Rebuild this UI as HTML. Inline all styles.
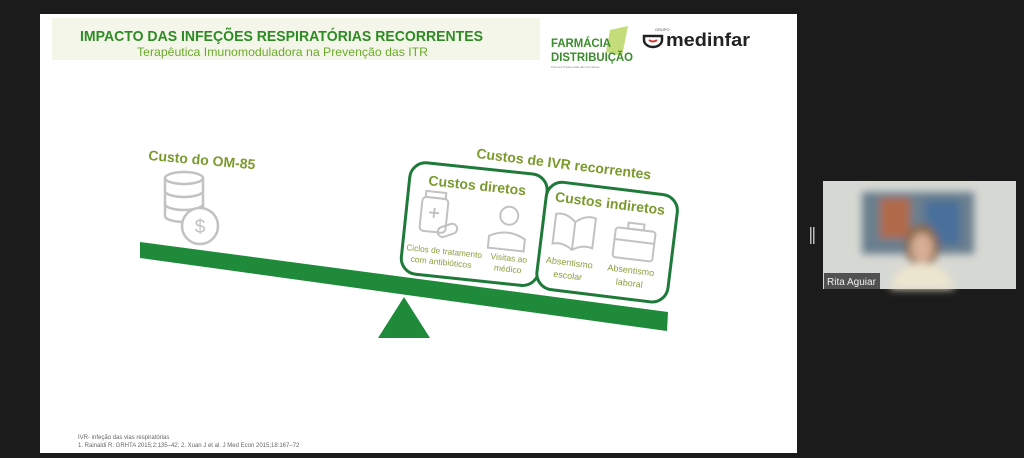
<!DOCTYPE html>
<html><head><meta charset="utf-8"><style>
html,body{margin:0;padding:0;background:#1b1b1b;width:1024px;height:458px;overflow:hidden;font-family:"Liberation Sans",sans-serif}
</style></head><body>
<svg width="1024" height="458" viewBox="0 0 1024 458" xmlns="http://www.w3.org/2000/svg" font-family="Liberation Sans, sans-serif">
<rect x="0" y="0" width="1024" height="458" fill="#1b1b1b"/>
<rect x="40" y="14" width="757" height="439" fill="#ffffff"/>
<rect x="52" y="18" width="488" height="42" fill="#f5f6ea"/>
<text x="80" y="41" font-size="15" font-weight="bold" fill="#2e8b24" textLength="403" lengthAdjust="spacingAndGlyphs">IMPACTO DAS INFEÇÕES RESPIRATÓRIAS RECORRENTES</text>
<text x="137" y="56" font-size="12" fill="#6aaa2a" textLength="291" lengthAdjust="spacingAndGlyphs">Terapêutica Imunomoduladora na Prevenção das ITR</text>
<!-- logos -->
<path d="M610 30 L628 26 L622 56 L606 52 Z" fill="#b7d35a" opacity="0.8"/>
<text x="551" y="47" font-size="12" font-weight="bold" fill="#3a8c2c" textLength="60" lengthAdjust="spacingAndGlyphs">FARMÁCIA</text>
<text x="551" y="61" font-size="12" font-weight="bold" fill="#3a8c2c" textLength="82" lengthAdjust="spacingAndGlyphs">DISTRIBUIÇÃO</text>
<text x="551" y="68" font-size="3" fill="#888">Parceira Preferencial das Farmácias</text>
<path d="M644 36 h18 v4 a9 7 0 0 1 -18 0 Z" fill="none" stroke="#222" stroke-width="2.5"/>
<path d="M649 40 q4 3 8 0" stroke="#d2322d" stroke-width="2" fill="none"/>
<text x="655" y="31" font-size="4" fill="#555">GRUPO</text>
<text x="666" y="46" font-size="18" font-weight="bold" fill="#222" textLength="84" lengthAdjust="spacingAndGlyphs">medinfar</text>
<!-- left -->
<text x="148" y="160" font-size="14" font-weight="bold" fill="#7a9a2e" transform="rotate(5 148 160)">Custo do OM-85</text>
<g fill="none" stroke="#c2c2c2" stroke-width="2.5">
<ellipse cx="184" cy="178" rx="19" ry="6"/>
<path d="M165 178 v38 a19 6 0 0 0 38 0 v-38"/>
<path d="M165 191 a19 6 0 0 0 38 0 M165 204 a19 6 0 0 0 38 0"/>
<circle cx="200" cy="226" r="18" fill="#fff"/>
</g>
<text x="200" y="233" text-anchor="middle" font-size="19" fill="#c2c2c2">$</text>
<!-- beam -->
<polygon points="140,242 668,312 667,331 140,258" fill="#1f8a3a"/>
<polygon points="404,297 430,338 378,338" fill="#1f8a3a"/>
<!-- right group -->
<text x="476" y="158" font-size="14" font-weight="bold" fill="#7a9a2e" transform="rotate(7 476 158)">Custos de IVR recorrentes</text>
<g transform="rotate(6 473 226)">
<rect x="405" y="168" width="138" height="112" rx="16" fill="#fff" stroke="#1f7a3a" stroke-width="3"/>
<text x="424" y="190" font-size="14" font-weight="bold" fill="#7a9a2e">Custos diretos</text>
<g fill="none" stroke="#c2c2c2" stroke-width="2">
<rect x="420" y="202" width="26" height="34" rx="4"/><rect x="423" y="196" width="20" height="6"/>
<path d="M433 212 v10 M428 217 h10"/>
<rect x="438" y="228" width="20" height="10" rx="5" transform="rotate(-25 448 233)"/>
<circle cx="508" cy="212" r="9"/><path d="M490 246 v-12 q18 -10 36 0 v12 Z"/>
</g>
<text x="447" y="257" text-anchor="middle" font-size="8.5" fill="#8aa040" textLength="76" lengthAdjust="spacingAndGlyphs">Ciclos de tratamento</text>
<text x="445" y="268" text-anchor="middle" font-size="8.5" fill="#8aa040">com antibióticos</text>
<text x="512" y="257" text-anchor="middle" font-size="8.5" fill="#8aa040">Visitas ao</text>
<text x="512" y="268" text-anchor="middle" font-size="8.5" fill="#8aa040">médico</text>
</g>
<g transform="rotate(7 606 243)">
<rect x="541" y="188" width="132" height="108" rx="16" fill="#fff" stroke="#1f7a3a" stroke-width="3"/>
<text x="550" y="208" font-size="14" font-weight="bold" fill="#7a9a2e">Custos indiretos</text>
<g fill="none" stroke="#c2c2c2" stroke-width="2">
<path d="M553 250 v-30 q10 -3 20 6 q10 -9 20 -6 v30 q-10 -3 -20 4 q-10 -7 -20 -4 Z M573 226 v28"/>
<rect x="614" y="226" width="40" height="30" rx="3"/><rect x="626" y="220" width="16" height="6"/>
<path d="M614 238 h40"/>
</g>
<text x="572" y="270" text-anchor="middle" font-size="9" fill="#8aa040">Absentismo</text>
<text x="572" y="283" text-anchor="middle" font-size="9" fill="#8aa040">escolar</text>
<text x="634" y="270" text-anchor="middle" font-size="9" fill="#8aa040">Absentismo</text>
<text x="634" y="283" text-anchor="middle" font-size="9" fill="#8aa040">laboral</text>
</g>
<!-- footer -->
<text x="78" y="439" font-size="6" fill="#666">IVR- infeção das vias respiratórias</text>
<text x="78" y="447" font-size="6" fill="#666">1. Rainaldi R. GRHTA 2015;2:135–42; 2. Xuan J et al. J Med Econ 2015;18:167–72</text>
<!-- handle -->
<rect x="810" y="227" width="1.5" height="17" fill="#bbb"/><rect x="813" y="227" width="1.5" height="17" fill="#bbb"/>
<!-- webcam -->
<defs><filter id="b"><feGaussianBlur stdDeviation="4"/></filter></defs>
<rect x="823" y="181" width="193" height="108" fill="#d6d8d3"/>
<g filter="url(#b)">
<rect x="862" y="192" width="112" height="62" fill="#6a7f8e"/>
<rect x="880" y="198" width="30" height="40" fill="#b06a4a"/>
<rect x="925" y="200" width="35" height="45" fill="#4a6f9a"/>
<ellipse cx="922" cy="246" rx="17" ry="22" fill="#8a6a4a"/>
<ellipse cx="922" cy="248" rx="11" ry="15" fill="#d7ae96"/>
<path d="M890 289 q5 -25 32 -26 q27 1 32 26 Z" fill="#ece5cf"/>
</g>
<rect x="824" y="273" width="56" height="16" fill="#3a3a3a" opacity="0.85"/>
<text x="827" y="285" font-size="10" fill="#f0f0f0">Rita Aguiar</text>
</svg>
</body></html>
